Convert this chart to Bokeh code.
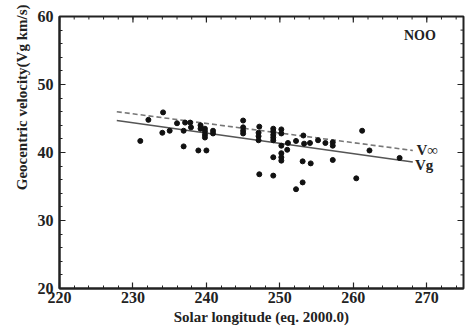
import numpy as np
from bokeh.plotting import figure
from bokeh.models import Range1d, Label, SingleIntervalTicker, Title
from bokeh.embed import file_html
from bokeh.resources import INLINE

# ---- data ----
sol_long = [231.0, 232.1, 234.1, 234.0, 235.0, 236.0, 236.9, 236.9, 237.1, 237.8,
            237.9, 238.9, 240.0, 239.2, 239.2, 239.8, 239.8, 239.8, 239.8, 240.9,
            240.9, 245.0, 245.0, 245.0, 245.0, 247.2, 247.1, 247.1, 247.1, 247.2,
            249.1, 249.1, 249.1, 249.1, 249.1, 250.2, 250.2, 250.2, 249.1, 250.2,
            250.2, 250.2, 251.1, 251.0, 249.1, 252.2, 252.2, 253.1, 253.2, 253.3,
            253.1, 254.1, 254.2, 255.2, 256.2, 257.2, 257.2, 257.2, 260.4, 261.2,
            262.2, 266.3]
vg = [41.7, 44.8, 45.9, 42.9, 43.2, 44.3, 43.2, 40.9, 44.4, 44.4,
      43.7, 40.3, 40.3, 44.0, 43.5, 43.5, 43.1, 42.6, 42.2, 43.2,
      42.8, 44.7, 43.7, 43.2, 42.8, 43.8, 42.9, 42.4, 41.8, 36.8,
      43.5, 43.1, 42.6, 42.2, 41.8, 43.4, 42.8, 41.0, 39.3, 39.9,
      39.3, 38.8, 41.4, 40.4, 36.6, 41.7, 34.6, 35.6, 42.5, 41.3,
      38.7, 41.4, 38.4, 41.8, 41.4, 41.5, 41.0, 38.9, 36.2, 43.2,
      40.3, 39.2]

fit_x = [227.8, 268.1]
fit_vg = [44.7, 38.6]
fit_vinf = [46.0, 40.3]

x_label = "Solar longitude (eq. 2000.0)"
y_label = "Geocentric velocity(Vg km/s)"
shower = "NOO"
X_MIN, X_MAX, Y_MIN, Y_MAX = 220, 275, 20, 60

FONT = "Liberation Serif"
INK = "#222222"

p = figure(width=466, height=336, output_backend="svg", toolbar_location=None,
           x_range=Range1d(X_MIN, X_MAX), y_range=Range1d(Y_MIN, Y_MAX),
           min_border_left=59, min_border_right=3, min_border_top=16,
           min_border_bottom=48)
p.grid.visible = False
p.outline_line_color = INK
p.outline_line_width = 2
p.background_fill_color = "white"

for ax in (p.xaxis[0], p.yaxis[0]):
    ax.ticker = SingleIntervalTicker(interval=10, num_minor_ticks=5)
    ax.axis_line_color = INK
    ax.axis_line_width = 2
    ax.major_tick_in = 6
    ax.major_tick_out = 0
    ax.minor_tick_in = 3
    ax.minor_tick_out = 0
    ax.major_tick_line_color = INK
    ax.minor_tick_line_color = INK
    ax.major_tick_line_width = 1.2
    ax.minor_tick_line_width = 1
    ax.major_label_text_font = FONT
    ax.major_label_text_font_style = "bold"
    ax.major_label_text_font_size = "16px"
    ax.major_label_text_color = INK
    ax.axis_label_text_font = FONT
    ax.axis_label_text_font_style = "bold"
    ax.axis_label_text_color = INK

p.xaxis.axis_label = x_label
p.xaxis.axis_label_text_font_size = "15px"
p.xaxis.major_label_standoff = 3
p.yaxis.major_label_standoff = 6
p.xaxis.axis_label_standoff = 3

# y-axis title sits above the frame centre in the reference
p.add_layout(Title(text=y_label, align="right", offset=-12, standoff=9,
                   text_font=FONT, text_font_style="bold", text_color=INK,
                   text_font_size="15px"), "left")

# inward ticks on the top and right frame edges
xmaj = np.arange(X_MIN, X_MAX + 0.1, 10)
xmin = np.arange(X_MIN, X_MAX + 0.1, 2)
ymaj = np.arange(Y_MIN, Y_MAX + 0.1, 10)
ymin = np.arange(Y_MIN, Y_MAX + 0.1, 2)
p.ray(x=xmaj, y=Y_MAX, length=6, length_units="screen", angle=-np.pi / 2,
      line_color=INK, line_width=1.2)
p.ray(x=xmin, y=Y_MAX, length=3, length_units="screen", angle=-np.pi / 2,
      line_color=INK, line_width=1)
p.ray(x=X_MAX, y=ymaj, length=6, length_units="screen", angle=np.pi,
      line_color=INK, line_width=1.2)
p.ray(x=X_MAX, y=ymin, length=3, length_units="screen", angle=np.pi,
      line_color=INK, line_width=1)

p.line(fit_x, fit_vinf, line_color="#777777", line_width=1.6, line_dash="5 3")
p.line(fit_x, fit_vg, line_color="#555555", line_width=1.6)
p.scatter(sol_long, vg, size=5, color="#111111")

lab_style = dict(text_font=FONT, text_font_style="bold", text_color=INK,
                 text_baseline="middle")
p.add_layout(Label(x=268.6, y=40.3, text="V∞", text_font_size="15px", **lab_style))
p.add_layout(Label(x=268.4, y=38.1, text="Vg", text_font_size="15px", **lab_style))
p.add_layout(Label(x=266.9, y=57.2, text=shower, text_font_size="14px", **lab_style))

open("out.html", "w").write(file_html(p, INLINE))
